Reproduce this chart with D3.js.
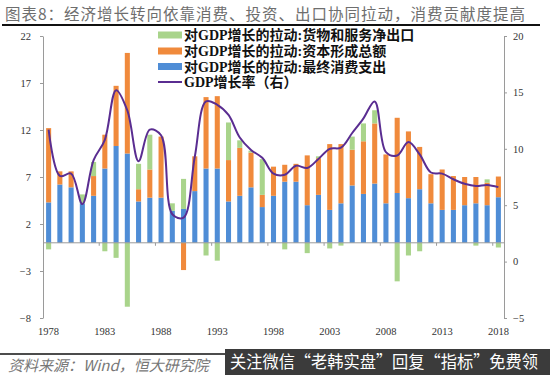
<!DOCTYPE html>
<html lang="zh">

<head>
  <meta charset="utf-8">
  <title>图表8</title>
  <script type="text/javascript" src="https://d3js.org/d3.v7.min.js"></script>
  <style type="text/css">
    body {
      margin: 0;
      background: #fff;
    }

    .tick text {
      font-family: "Liberation Serif", "DejaVu Serif", serif;
      font-size: 10.5px;
      fill: #333;
    }

    .legend text {
      font-family: "Liberation Serif", "Noto Sans CJK SC", serif;
      font-size: 14px;
      font-weight: bold;
      fill: #111;
    }
  </style>
</head>

<body>
  <div id="chart"></div>
  <script type="text/javascript">

    //Categories (years) and tick labels
    const years = [1978, 1979, 1980, 1981, 1982, 1983, 1984, 1985, 1986, 1987,
      1988, 1989, 1990, 1991, 1992, 1993, 1994, 1995, 1996, 1997,
      1998, 1999, 2000, 2001, 2002, 2003, 2004, 2005, 2006, 2007,
      2008, 2009, 2010, 2011, 2012, 2013, 2014, 2015, 2016, 2017, 2018]
    const labelYears = [1978, 1983, 1988, 1993, 1998, 2003, 2008, 2013, 2018]
    const leftTicks = [-8, -3, 2, 7, 12, 17, 22]
    const rightTicks = [-5, 0, 5, 10, 15, 20]

    //Pull on GDP growth from final consumption (blue)
    const consumption = [4.3, 6.2, 5.9, 4.2, 5.0, 7.9, 10.3, 9.5, 4.4, 4.8,
      4.8, 3.4, 3.6, 5.5, 7.9, 7.9, 4.4, 5.0, 5.9, 3.8,
      5.0, 6.5, 6.5, 4.0, 5.1, 3.5, 4.2, 6.1, 5.2, 6.3,
      4.2, 5.3, 4.75, 5.7, 4.2, 3.5, 3.5, 4.0, 4.2, 4.0, 4.85]
    //Pull from gross capital formation (orange)
    const capital = [7.9, 1.4, 1.7, 0, 2.1, 3.6, 6.4, 10.7, 1.3, 3.0,
      6.5, 0, -2.9, 3.7, 7.6, 7.7, 4.4, 5.1, 3.7, 1.3,
      3.1, 1.8, 1.9, 5.3, 3.9, 7.0, 6.3, 3.8, 5.6, 6.4,
      5.2, 8.0, 7.1, 4.5, 3.1, 4.3, 3.6, 3.0, 2.8, 2.4, 2.2]
    //Pull from net exports of goods and services (green)
    const netExports = [-0.7, 0, 0, 0.95, 1.5, -0.9, -1.6, -6.8, 2.7, 3.7,
      0, 0.8, 3.2, 0, -1.35, -1.9, 4.0, 0.8, 0.2, 3.8,
      0, -0.7, 0, -1.1, 0.2, -0.6, -0.3, 1.4, 1.9, 1.4,
      0, -4.1, -1.35, -0.9, 0, 0, 0, 0, -0.3, 0.35, -0.5]
    //GDP growth rate (right axis)
    const gdpGrowth = [11.7, 7.6, 7.8, 5.1, 9.0, 10.8, 15.2, 13.4, 8.9, 11.7,
      11.2, 4.2, 3.9, 9.3, 14.2, 13.9, 13.0, 11.0, 9.9, 9.2,
      7.8, 7.7, 8.5, 8.3, 9.1, 10.0, 10.1, 11.4, 12.7, 14.2,
      9.7, 9.4, 10.6, 9.5, 7.9, 7.8, 7.3, 6.9, 6.7, 6.8, 6.6]

    const seriesKeys = ['consumption', 'capital', 'netExports']
    const seriesColors = { consumption: '#4f8dd6', capital: '#f08a3c', netExports: '#a9d48b' }
    const legendItems = [
      { key: 'netExports', label: '对GDP增长的拉动:货物和服务净出口' },
      { key: 'capital', label: '对GDP增长的拉动:资本形成总额' },
      { key: 'consumption', label: '对GDP增长的拉动:最终消费支出' },
      { key: 'gdp', label: 'GDP增长率（右）' }
    ]

    const width = 550, height = 375
    const plot = { left: 43, right: 504, top: 36, bottom: 318 }

    //Build rows for d3.stack
    const rows = years.map((y, i) => ({
      year: y,
      consumption: consumption[i],
      capital: capital[i],
      netExports: netExports[i]
    }))

    const stacked = d3.stack()
      .keys(seriesKeys)
      .offset(d3.stackOffsetDiverging)(rows)

    const svg = d3.select('#chart')
      .append('svg')
      .attr('width', width)
      .attr('height', height)
      .style('font-family', '"Noto Sans CJK SC", sans-serif')

    //Scales
    const x = d3.scaleBand()
      .domain(years)
      .range([plot.left, plot.right])
      .paddingInner(0.55)
      .paddingOuter(0.275)

    const yL = d3.scaleLinear().domain([-8, 22]).range([plot.bottom, plot.top])
    const yR = d3.scaleLinear().domain([-5, 20]).range([plot.bottom, plot.top])

    //Title and rule
    svg.append('text')
      .attr('x', 5)
      .attr('y', 20)
      .style('font-size', '15.5px')
      .style('fill', '#6e6e6e')
      .style('letter-spacing', '1px')
      .text('图表8：经济增长转向依靠消费、投资、出口协同拉动，消费贡献度提高')

    svg.append('line')
      .attr('x1', 2).attr('x2', 540)
      .attr('y1', 25).attr('y2', 25)
      .attr('stroke', '#111')
      .attr('stroke-width', 2)

    //Bars
    svg.append('g')
      .selectAll('g')
      .data(stacked)
      .join('g')
      .attr('fill', d => seriesColors[d.key])
      .selectAll('rect')
      .data(d => d)
      .join('rect')
      .attr('x', d => x(d.data.year))
      .attr('width', x.bandwidth())
      .attr('y', d => yL(Math.max(d[0], d[1])))
      .attr('height', d => Math.abs(yL(d[0]) - yL(d[1])))

    //Zero line with a tick every five years
    const y0 = yL(0)
    svg.append('line')
      .attr('x1', plot.left).attr('x2', plot.right)
      .attr('y1', y0).attr('y2', y0)
      .attr('stroke', '#9a9a9a')
      .attr('stroke-width', 1)

    svg.append('g')
      .selectAll('line')
      .data(labelYears.slice(1))
      .join('line')
      .attr('x1', d => x(d) - x.step() * x.paddingInner() / 2)
      .attr('x2', d => x(d) - x.step() * x.paddingInner() / 2)
      .attr('y1', y0).attr('y2', y0 + 3)
      .attr('stroke', '#9a9a9a')

    //GDP growth line
    const line = d3.line()
      .x((d, i) => x(years[i]) + x.bandwidth() / 2)
      .y(d => yR(d))
      .curve(d3.curveCatmullRom.alpha(0.5))

    svg.append('path')
      .datum(gdpGrowth)
      .attr('d', line)
      .attr('fill', 'none')
      .attr('stroke', '#5a2d91')
      .attr('stroke-width', 2)

    //Axes
    const leftAxis = svg.append('g')
      .attr('transform', `translate(${plot.left},0)`)
      .call(d3.axisLeft(yL).tickValues(leftTicks).tickSize(3).tickSizeOuter(0).tickPadding(9))
    leftAxis.select('.domain').attr('stroke', '#9a9a9a')
    leftAxis.selectAll('.tick line').attr('stroke', '#9a9a9a')

    const rightAxis = svg.append('g')
      .attr('transform', `translate(${plot.right},0)`)
      .call(d3.axisRight(yR).tickValues(rightTicks).tickSize(3).tickSizeOuter(0).tickPadding(6))
    rightAxis.select('.domain').attr('stroke', '#9a9a9a')
    rightAxis.selectAll('.tick line').attr('stroke', '#9a9a9a')

    const bottomAxis = svg.append('g')
      .attr('transform', `translate(0,${plot.bottom})`)
      .call(d3.axisBottom(x).tickValues(labelYears).tickSize(0).tickPadding(10))
    bottomAxis.select('.domain').remove()

    //Legend
    const legend = svg.append('g').attr('class', 'legend')
    const rowY = [35, 51, 66.5, 82]
    legendItems.forEach((item, i) => {
      if (item.key === 'gdp') {
        legend.append('line')
          .attr('x1', 158).attr('x2', 182)
          .attr('y1', rowY[i]).attr('y2', rowY[i])
          .attr('stroke', '#5a2d91')
          .attr('stroke-width', 2)
      } else {
        legend.append('rect')
          .attr('x', 158).attr('y', rowY[i] - 3.5)
          .attr('width', 24).attr('height', 7)
          .attr('fill', seriesColors[item.key])
      }
      legend.append('text')
        .attr('x', 184)
        .attr('y', rowY[i] + 5)
        .text(item.label)
    })

    //Footer
    svg.append('line')
      .attr('x1', 0).attr('x2', 545)
      .attr('y1', 354).attr('y2', 354)
      .attr('stroke', '#111')
      .attr('stroke-width', 1.5)

    svg.append('text')
      .attr('x', 8)
      .attr('y', 371)
      .style('font-size', '15px')
      .style('font-style', 'italic')
      .style('fill', '#777')
      .text('资料来源：Wind，恒大研究院')

    //Overlay banner at bottom right
    svg.append('rect')
      .attr('x', 225).attr('y', 349)
      .attr('width', 325).attr('height', 26)
      .attr('fill', '#3b3b3b')

    svg.append('text')
      .attr('x', 230)
      .attr('y', 368)
      .attr('textLength', 308)
      .attr('lengthAdjust', 'spacingAndGlyphs')
      .style('font-size', '16.5px')
      .style('fill', '#fff')
      .text('关注微信“老韩实盘”回复“指标”免费领')

  </script>
</body>

</html>
